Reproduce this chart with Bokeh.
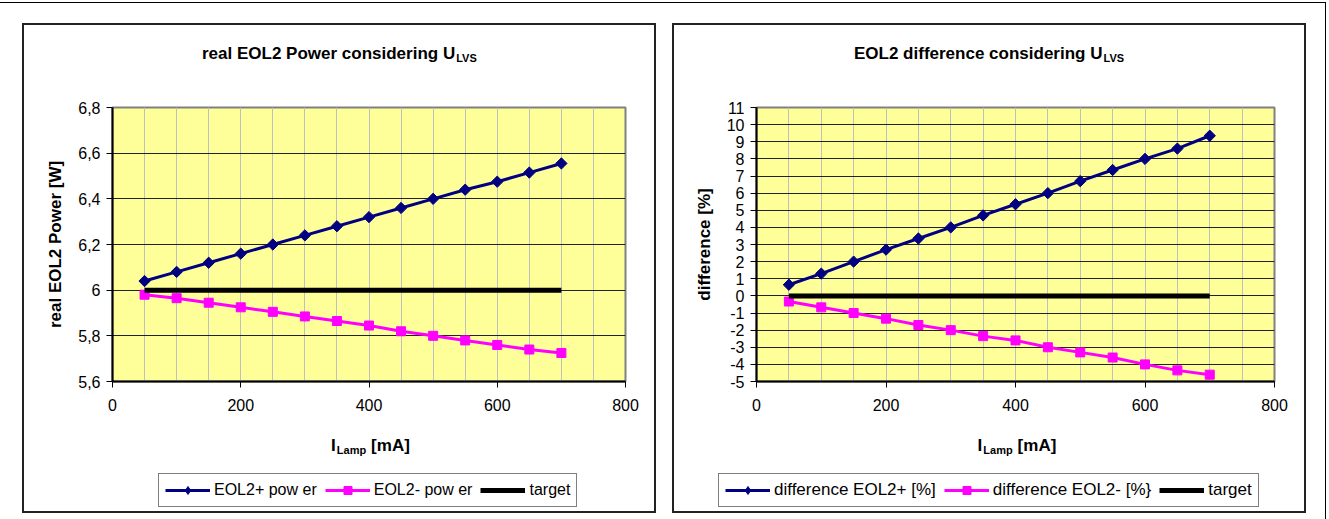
import math
from bokeh.plotting import figure
from bokeh.models import Range1d, FixedTicker, Label, Legend, LegendItem, Row, Column
from bokeh.embed import file_html
from bokeh.resources import INLINE

# ---------------- data ----------------
current_ma = [50, 100, 150, 200, 250, 300, 350, 400, 450, 500, 550, 600, 650, 700]
eol2_plus_power = [6.04, 6.08, 6.12, 6.16, 6.20, 6.24, 6.28, 6.32, 6.36, 6.40, 6.44, 6.475, 6.515, 6.555]
eol2_minus_power = [5.98, 5.965, 5.945, 5.925, 5.905, 5.885, 5.865, 5.845, 5.82, 5.80, 5.78, 5.76, 5.74, 5.725]
target_power = [6.0, 6.0, 6.0, 6.0, 6.0, 6.0, 6.0, 6.0, 6.0, 6.0, 6.0, 6.0, 6.0, 6.0]
diff_plus = [0.65, 1.3, 2.0, 2.7, 3.35, 4.0, 4.7, 5.35, 6.0, 6.7, 7.35, 8.0, 8.6, 9.35]
diff_minus = [-0.33, -0.67, -1.0, -1.33, -1.7, -2.0, -2.35, -2.6, -3.0, -3.3, -3.6, -4.0, -4.35, -4.6]
target_diff = [0, 0, 0, 0, 0, 0, 0, 0, 0, 0, 0, 0, 0, 0]

x_ticks = [0, 200, 400, 600, 800]
x_tick_labels = ["0", "200", "400", "600", "800"]
x_grid_ticks = [0, 50, 100, 150, 200, 250, 300, 350, 400, 450, 500, 550, 600, 650, 700, 750, 800]
y_ticks_left = [5.6, 5.8, 6.0, 6.2, 6.4, 6.6, 6.8]
y_tick_labels_left = ["5,6", "5,8", "6", "6,2", "6,4", "6,6", "6,8"]
y_ticks_right = [-5, -4, -3, -2, -1, 0, 1, 2, 3, 4, 5, 6, 7, 8, 9, 10, 11]
y_tick_labels_right = ["-5", "-4", "-3", "-2", "-1", "0", "1", "2", "3", "4", "5", "6", "7", "8", "9", "10", "11"]

titles = ["real EOL2 Power considering U", "EOL2 difference considering U"]
title_sub = "LVS"
y_labels = ["real EOL2 Power [W]", "difference [%]"]
x_label_main = "I"
x_label_sub = "Lamp"
x_label_unit = "[mA]"
legend_labels_left = ["EOL2+ pow er", "EOL2- pow er", "target"]
legend_labels_right = ["difference EOL2+ [%]", "difference EOL2- [%}", "target"]

# ---------------- styling / layout (page pixels) ----------------
FONT = "Liberation Sans"
NAVY = "#000080"
MAGENTA = "#FF00FF"
YELLOW = "#FFFF99"
BOX = "2px solid #222222"
BOX_W = 634
TOP_H, MAIN_H, BOTTOM_H = 67, 331, 92


def text_strip(h, borders, canvas_x0, frame_x):
    """Figure used as a text strip; x data = page pixels, y data = canvas pixels (downwards)."""
    styles = {("border-" + b): BOX for b in borders}
    p = figure(width=BOX_W, height=h, output_backend="svg", toolbar_location=None,
               x_range=Range1d(0, 1), y_range=Range1d(h, 0),
               x_axis_location=None, y_axis_location=None,
               min_border_left=0, min_border_right=0, min_border_top=0, min_border_bottom=0,
               background_fill_color="white", border_fill_color="white",
               outline_line_color=None, styles=styles)
    p.grid.visible = False
    aligned = True
    try:
        p.frame_align = False
        aligned = False
    except Exception:
        aligned = True
    x0, x1 = frame_x if aligned else (canvas_x0, canvas_x0 + BOX_W)
    p.x_range = Range1d(x0, x1)
    return p, aligned


def label(p, x, y, s, size):
    p.add_layout(Label(x=x, y=y, text=s, text_align="left", text_baseline="alphabetic",
                       text_font=FONT, text_font_size=size, text_font_style="bold",
                       text_color="black"))


def make_chart(ys, yr, yticks, ylabels, box_left, frame_x, title, ylabel, leg_labels, leg_font, pos):
    canvas_x0 = box_left + 2
    fl = frame_x[0] - canvas_x0
    fr = canvas_x0 + BOX_W - frame_x[1]

    # ---- title strip
    top, _ = text_strip(TOP_H, ["top", "left", "right"], canvas_x0, frame_x)
    label(top, pos["title"], 28, title, "17px")
    label(top, pos["tsub"], 32, title_sub, "11px")

    # ---- plot
    p = figure(width=BOX_W, height=MAIN_H, output_backend="svg", toolbar_location=None, title=None,
               x_range=Range1d(0, 800), y_range=Range1d(*yr),
               min_border_left=fl, min_border_right=fr, min_border_top=17, min_border_bottom=40,
               background_fill_color=YELLOW, border_fill_color="white",
               styles={"border-left": BOX, "border-right": BOX})
    p.outline_line_color = "#808080"
    p.outline_line_width = 2

    p.xaxis.ticker = FixedTicker(ticks=x_ticks, minor_ticks=x_grid_ticks)
    p.xaxis.major_label_overrides = dict(zip(x_ticks, x_tick_labels))
    p.yaxis.ticker = FixedTicker(ticks=yticks, minor_ticks=[])
    p.yaxis.major_label_overrides = dict(zip(yticks, ylabels))
    for ax in (p.xaxis[0], p.yaxis[0]):
        ax.axis_line_color = "black"
        ax.axis_line_width = 2
        ax.major_tick_line_color = "black"
        ax.major_tick_line_width = 1
        ax.major_tick_in = 0
        ax.major_tick_out = 6
        ax.minor_tick_line_color = None
        ax.major_label_text_font = FONT
        ax.major_label_text_font_size = "16px"
        ax.major_label_text_color = "black"
    p.xaxis.major_label_standoff = 11
    p.yaxis.major_label_standoff = 6
    p.yaxis.axis_label = ylabel
    p.yaxis.axis_label_text_font = FONT
    p.yaxis.axis_label_text_font_size = "17px"
    p.yaxis.axis_label_text_font_style = "bold"
    p.yaxis.axis_label_text_color = "black"
    p.yaxis.axis_label_standoff = 10

    p.xgrid.ticker = FixedTicker(ticks=x_grid_ticks)
    p.xgrid.grid_line_color = "#C0C0C0"
    p.xgrid.grid_line_width = 1
    p.ygrid.ticker = FixedTicker(ticks=yticks)
    p.ygrid.grid_line_color = "#222222"
    p.ygrid.grid_line_width = 1

    p.line(current_ma, ys[0], line_color=NAVY, line_width=3)
    p.scatter(current_ma, ys[0], marker="square", angle=math.pi / 4, size=8,
              fill_color=NAVY, line_color=NAVY)
    p.line(current_ma, ys[1], line_color=MAGENTA, line_width=3)
    p.scatter(current_ma, ys[1], marker="square", size=9, fill_color=MAGENTA, line_color=MAGENTA)
    p.line(current_ma, ys[2], line_color="black", line_width=5)

    # ---- bottom strip: x axis title and legend
    bot, aligned = text_strip(BOTTOM_H, ["bottom", "left", "right"], canvas_x0, frame_x)
    label(bot, pos["i"], 24, x_label_main, "17px")
    label(bot, pos["i"] + 5.7, 28, x_label_sub, "11px")
    label(bot, pos["i"] + 40, 24, x_label_unit, "17px")

    # series copies on a range far outside the strip: only their legend swatches show
    bot.extra_y_ranges = {"hidden": Range1d(1000, 1001)}
    r1 = bot.line(current_ma, ys[0], line_color=NAVY, line_width=3, y_range_name="hidden")
    m1 = bot.scatter(current_ma, ys[0], marker="diamond", size=12,
                     fill_color=NAVY, line_color=NAVY, y_range_name="hidden")
    r2 = bot.line(current_ma, ys[1], line_color=MAGENTA, line_width=3, y_range_name="hidden")
    m2 = bot.scatter(current_ma, ys[1], marker="square", size=9, fill_color=MAGENTA,
                     line_color=MAGENTA, y_range_name="hidden")
    r3 = bot.line(current_ma, ys[2], line_color="black", line_width=5, y_range_name="hidden")

    leg_left = max(pos["legend"], frame_x[0] + 2) if aligned else pos["legend"]
    lg = Legend(items=[
        LegendItem(label=leg_labels[0], renderers=[r1, m1]),
        LegendItem(label=leg_labels[1], renderers=[r2, m2]),
        LegendItem(label=leg_labels[2], renderers=[r3]),
    ], orientation="horizontal", location=(leg_left - bot.x_range.start, 6))
    lg.label_text_font = FONT
    lg.label_text_font_size = leg_font
    lg.label_text_color = "black"
    lg.glyph_width = 45
    lg.glyph_height = 20
    lg.label_height = 20
    lg.label_standoff = 4
    lg.spacing = 8
    lg.padding = 6
    lg.margin = 0
    lg.border_line_color = "black"
    lg.border_line_width = 1
    lg.background_fill_color = "white"
    lg.background_fill_alpha = 1
    bot.add_layout(lg)

    return Column(children=[top, p, bot], spacing=0)


c1 = make_chart([eol2_plus_power, eol2_minus_power, target_power], (5.6, 6.8),
                y_ticks_left, y_tick_labels_left, 23, (113, 626),
                titles[0], y_labels[0], legend_labels_left, "16px",
                dict(title=202.5, tsub=456.7, i=331.6, legend=159))
c2 = make_chart([diff_plus, diff_minus, target_diff], (-5, 11),
                y_ticks_right, y_tick_labels_right, 673, (757, 1275),
                titles[1], y_labels[1], legend_labels_right, "17px",
                dict(title=854.5, tsub=1104, i=978.1, legend=719))

layout = Row(children=[c1, c2], spacing=16,
             styles={"border": "1px solid black", "padding": "20px 19px 20px 24px",
                     "margin": "2px 0 -40px -3px"})

open("out.html", "w").write(file_html(layout, INLINE))
